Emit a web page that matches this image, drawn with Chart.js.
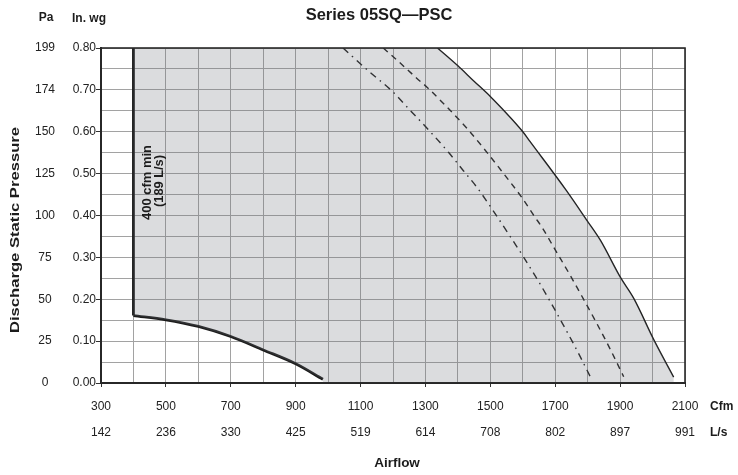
<!DOCTYPE html>
<html>
<head>
<meta charset="utf-8">
<title>Series 05SQ—PSC</title>
<script src="https://cdn.jsdelivr.net/npm/chart.js@4.4.1/dist/chart.umd.min.js"></script>
<style>
  html, body { margin: 0; padding: 0; background: #fff; }
  #wrap { width: 738px; height: 475px; position: relative; }
</style>
</head>
<body>
<div id="wrap"><canvas id="fan-canvas"></canvas></div>
<script>
// =========================================
// Axis labels
// =========================================
const cfmTicks  = [300, 500, 700, 900, 1100, 1300, 1500, 1700, 1900, 2100];
const lpsTicks  = [142, 236, 330, 425, 519, 614, 708, 802, 897, 991];
const inWgTicks = [0, 0.1, 0.2, 0.3, 0.4, 0.5, 0.6, 0.7, 0.8];
const paTicks   = [0, 25, 50, 75, 100, 125, 150, 174, 199];

// =========================================
// Curves (Cfm / In. wg)
// =========================================
// 400 cfm minimum, then the minimum-pressure limit
const minCfm  = [400, 400, 500, 600, 700, 800, 900, 984];
const minInWg = [0.80, 0.161, 0.151, 0.135, 0.111, 0.079, 0.046, 0.009];

// high speed (solid)
const highCfm  = [1337, 1399, 1448, 1499, 1535, 1600, 1622, 1734, 1798, 1839, 1901, 1942, 2004, 2065];
const highInWg = [0.80, 0.758, 0.722, 0.685, 0.656, 0.600, 0.577, 0.460, 0.388, 0.341, 0.252, 0.202, 0.103, 0.014];

// medium speed (dashed)
const medCfm  = [1170, 1211, 1273, 1304, 1365, 1427, 1479, 1535, 1597, 1634, 1659, 1700, 1747, 1788, 1829, 1870, 1911];
const medInWg = [0.80, 0.772, 0.728, 0.707, 0.660, 0.609, 0.561, 0.506, 0.443, 0.400, 0.372, 0.318, 0.256, 0.199, 0.141, 0.080, 0.015];

// low speed (dash-dot)
const lowCfm  = [1046, 1129, 1196, 1247, 1309, 1371, 1417, 1458, 1510, 1562, 1603, 1649, 1685, 1716, 1752, 1777, 1808];
const lowInWg = [0.80, 0.742, 0.698, 0.656, 0.605, 0.551, 0.507, 0.468, 0.410, 0.349, 0.300, 0.242, 0.194, 0.151, 0.100, 0.063, 0.015];

const FONT = 'Arial, "Liberation Sans", Helvetica, sans-serif';
const INK = '#1c1c1c';

const toPts = (xs, ys) => xs.map((x, i) => ({ x: x, y: ys[i] }));
const minPts  = toPts(minCfm, minInWg);
const highPts = toPts(highCfm, highInWg);

// operating range: inside the min line and under the high speed curve
const shadePts = [
    ...minPts,
    { x: minCfm[minCfm.length - 1], y: 0 },
    { x: highCfm[highCfm.length - 1], y: 0 },
    ...highPts.slice().reverse()
];

const isLabelled = (v) => cfmTicks.indexOf(Math.round(v)) >= 0;
const isInWgLabel = (v) => inWgTicks.some(t => Math.abs(t - v) < 1e-6);

// =========================================
// Extra text + plot frame
// =========================================
function stretchedText(ctx, text, x, y, length, size) {
    ctx.save();
    ctx.translate(x, y);
    ctx.rotate(-Math.PI / 2);
    ctx.font = `bold ${size}px ${FONT}`;
    const w = ctx.measureText(text).width;
    ctx.scale(length / w, 1);
    ctx.textAlign = 'center';
    ctx.textBaseline = 'middle';
    ctx.fillText(text, 0, 0);
    ctx.restore();
}

const decorPlugin = {
    id: 'decor',
    afterDatasetsDraw(chart) {
        const { ctx, chartArea: a } = chart;
        ctx.save();
        ctx.strokeStyle = '#2a2a2a';
        ctx.lineWidth = 1.6;
        ctx.strokeRect(a.left, a.top, a.right - a.left, a.bottom - a.top);
        ctx.restore();
    },
    afterDraw(chart) {
        const { ctx, scales } = chart;
        const x = scales.x;
        ctx.save();
        ctx.fillStyle = INK;
        ctx.textBaseline = 'middle';

        ctx.textAlign = 'center';
        ctx.font = `bold 16.5px ${FONT}`;
        ctx.fillText('Series 05SQ—PSC', 379, 15);

        ctx.font = `bold 12px ${FONT}`;
        ctx.fillText('Pa', 46, 18);
        ctx.fillText('In. wg', 89, 19);

        ctx.textAlign = 'left';
        ctx.fillText('Cfm', 710, 407);
        ctx.fillText('L/s', 710, 433);

        ctx.textAlign = 'center';
        ctx.font = `bold 13.5px ${FONT}`;
        ctx.fillText('Airflow', 397, 463);

        stretchedText(ctx, 'Discharge Static Pressure', 15, 230, 206, 13);

        const xMin = x.getPixelForValue(minCfm[0]);
        stretchedText(ctx, '400 cfm min', xMin + 14, 182.5, 75, 12.5);
        stretchedText(ctx, '(189 L/s)', xMin + 26, 181, 52, 12.5);
        ctx.restore();
    }
};

// =========================================
// Chart
// =========================================
const lineSet = (data, width, dash, smooth) => ({
    data: data,
    borderColor: INK,
    borderWidth: width,
    borderDash: dash,
    borderCapStyle: 'butt',
    borderJoinStyle: 'miter',
    pointRadius: 0,
    fill: false,
    cubicInterpolationMode: smooth ? 'monotone' : 'default',
    tension: 0
});

new Chart(document.getElementById('fan-canvas'), {
    type: 'line',
    data: {
        datasets: [
            {
                data: shadePts,
                borderWidth: 0,
                borderColor: 'rgba(0,0,0,0)',
                backgroundColor: 'rgba(110,115,125,0.25)',
                pointRadius: 0,
                fill: 'shape',
                tension: 0
            },
            // vertical 400 cfm line, then the smooth lower limit
            lineSet(minPts.slice(0, 2), 2.8, [], false),
            lineSet(minPts.slice(1), 2.8, [], true),
            lineSet(highPts, 1.4, [], true),
            lineSet(toPts(medCfm, medInWg), 1.4, [6, 5], true),
            lineSet(toPts(lowCfm, lowInWg), 1.4, [7, 5, 1.5, 5], true)
        ]
    },
    options: {
        responsive: true,
        maintainAspectRatio: false,
        animation: false,
        events: [],
        layout: { padding: { left: 0, top: 48, right: 53, bottom: 32 } },
        plugins: {
            legend: { display: false },
            title: { display: false },
            tooltip: { enabled: false }
        },
        scales: {
            x: {
                type: 'linear',
                min: 300,
                max: 2100,
                bounds: 'ticks',
                grid: {
                    color: '#a2a2a2',
                    lineWidth: 1,
                    tickLength: 4,
                    tickColor: (c) => isLabelled(c.tick.value) ? '#333' : 'rgba(0,0,0,0)'
                },
                border: { color: '#222', width: 2 },
                ticks: {
                    stepSize: 100,
                    autoSkip: false,
                    maxRotation: 0,
                    padding: 7,
                    color: '#222',
                    font: { family: FONT, size: 12, lineHeight: 26 / 12 },
                    callback: (v) => {
                        const i = cfmTicks.indexOf(Math.round(v));
                        return i >= 0 ? [String(cfmTicks[i]), String(lpsTicks[i])] : '';
                    }
                },
                afterFit: (s) => { s.height = 60; }
            },
            y: {
                position: 'left',
                weight: 0,
                min: 0,
                max: 0.8,
                grid: {
                    color: '#a2a2a2',
                    lineWidth: 1,
                    tickLength: 5,
                    tickColor: (c) => isInWgLabel(c.tick.value) ? '#333' : 'rgba(0,0,0,0)'
                },
                border: { color: '#222', width: 2 },
                ticks: {
                    stepSize: 0.05,
                    autoSkip: false,
                    padding: 0,
                    color: '#222',
                    font: { family: FONT, size: 12 },
                    callback: (v) => isInWgLabel(v) ? v.toFixed(2) : ''
                },
                afterFit: (s) => { s.width = 46; }
            },
            yPa: {
                position: 'left',
                weight: 1,
                min: 0,
                max: 0.8,
                grid: { display: false, drawTicks: false },
                border: { display: false },
                ticks: {
                    stepSize: 0.1,
                    autoSkip: false,
                    padding: 0,
                    crossAlign: 'center',
                    color: '#222',
                    font: { family: FONT, size: 12 },
                    callback: (v) => {
                        const i = Math.round(v * 10);
                        return paTicks[i] !== undefined ? String(paTicks[i]) : '';
                    }
                },
                afterFit: (s) => { s.width = 55; }
            }
        }
    },
    plugins: [decorPlugin]
});
</script>
</body>
</html>
